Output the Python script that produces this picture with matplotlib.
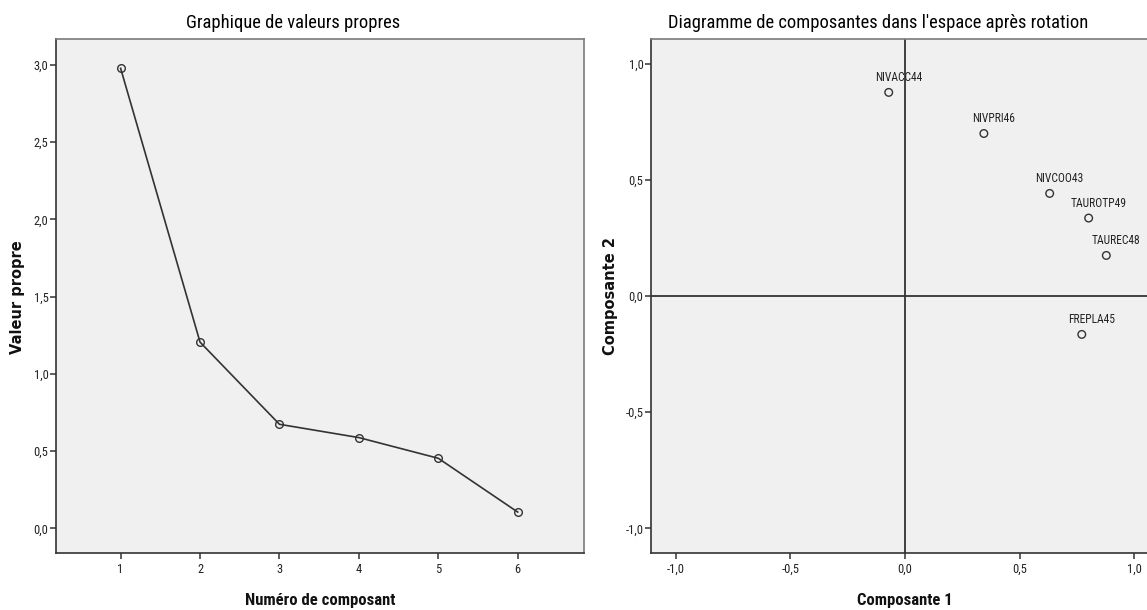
import matplotlib

matplotlib.use("Agg")
import matplotlib.pyplot as plt
from matplotlib import font_manager
from matplotlib.ticker import FuncFormatter

# Scree plot data
components = [1, 2, 3, 4, 5, 6]
eigenvalues = [2.977, 1.205, 0.673, 0.587, 0.453, 0.105]

# Rotated component loadings
variables = ["NIVACC44", "NIVPRI46", "NIVCOO43", "TAUROTP49", "TAUREC48", "FREPLA45"]
comp1 = [-0.071, 0.344, 0.631, 0.801, 0.878, 0.771]
comp2 = [0.877, 0.700, 0.442, 0.336, 0.175, -0.165]

scree_yticks = [0.0, 0.5, 1.0, 1.5, 2.0, 2.5, 3.0]
load_ticks = [-1.0, -0.5, 0.0, 0.5, 1.0]

BG = "#f0f0f0"
INK = "#333333"
W, H = 1147, 610


def _pick_narrow():
    # SPSS uses Arial Narrow; take a condensed face if one is installed,
    # otherwise shrink regular Liberation Sans to keep the text widths.
    for fam in ("Liberation Sans Narrow", "Arial Narrow", "Roboto Condensed",
                "Open Sans Condensed", "Noto Sans Condensed"):
        try:
            font_manager.findfont(font_manager.FontProperties(family=fam),
                                  fallback_to_default=False)
            return [fam, "DejaVu Sans"], 1.0
        except ValueError:
            continue
    return ["Liberation Sans", "DejaVu Sans"], 0.83


NARROW, SQUEEZE = _pick_narrow()
WIDE_BOLD = ["DejaVu Sans"]


def comma(v, _pos=None):
    return f"{v:.1f}".replace(".", ",")


def style_axes(ax):
    ax.set_facecolor(BG)
    for side in ("left", "bottom"):
        ax.spines[side].set_color(INK)
        ax.spines[side].set_linewidth(1.2)
    for side in ("top", "right"):
        ax.spines[side].set_color("#7a7a7a")
        ax.spines[side].set_linewidth(1.2)
    ax.tick_params(direction="out", length=4, width=1.1, color=INK,
                   labelsize=9 * SQUEEZE, labelcolor="#222222")
    ax.tick_params(axis="y", pad=1)
    ax.tick_params(axis="x", pad=3)
    for lab in ax.get_xticklabels() + ax.get_yticklabels():
        lab.set_family(NARROW)


fig = plt.figure(figsize=(W / 100, H / 100), dpi=100)

# ---- left: scree plot ----
ax1 = fig.add_axes([55.5 / W, 1 - 553 / H, (584 - 55.5) / W, (553 - 38.5) / H])
ax1.plot(components, eigenvalues, color=INK, lw=1.2, marker="o", ms=5.5,
         mfc="none", mec=INK, mew=1.0)
ax1.set_xlim(0.18, 6.835)
ax1.set_ylim(-0.16, 3.17)
ax1.set_xticks(components)
ax1.set_yticks(scree_yticks)
ax1.yaxis.set_major_formatter(FuncFormatter(comma))
style_axes(ax1)

# ---- right: rotated component plot ----
ax2 = fig.add_axes([650.5 / W, 1 - 553 / H, 509 / W, (553 - 38.5) / H])
ax2.axhline(0, color=INK, lw=1.3, zorder=1)
ax2.axvline(0, color=INK, lw=1.3, zorder=1)
ax2.scatter(comp1, comp2, s=30, facecolors="none", edgecolors=INK,
            linewidths=1.0, zorder=3)
for name, x, y in zip(variables, comp1, comp2):
    ax2.annotate(name, (x, y), xytext=(7, 10.5), textcoords="offset points",
                 ha="center", va="center", fontsize=8.3 * SQUEEZE, family=NARROW,
                 color="#222222")
ax2.set_xlim(-1.11, 1.11)
ax2.set_ylim(-1.106, 1.109)
ax2.set_xticks(load_ticks)
ax2.set_yticks(load_ticks)
ax2.xaxis.set_major_formatter(FuncFormatter(comma))
ax2.yaxis.set_major_formatter(FuncFormatter(comma))
style_axes(ax2)

# ---- titles and axis labels ----
fig.text(293 / W, 1 - 23 / H, "Graphique de valeurs propres",
         ha="center", va="center", fontsize=13.3 * SQUEEZE, family=NARROW,
         color="#000000")
fig.text(878 / W, 1 - 23 / H, "Diagramme de composantes dans l'espace après rotation",
         ha="center", va="center", fontsize=13.3 * SQUEEZE, family=NARROW,
         color="#000000")

fig.text(320 / W, 1 - 601 / H, "Numéro de composant", ha="center", va="center",
         fontsize=12 * SQUEEZE, family=NARROW, weight="bold", color="#111111")
fig.text(905 / W, 1 - 601 / H, "Composante 1", ha="center", va="center",
         fontsize=12 * SQUEEZE, family=NARROW, weight="bold", color="#111111")

fig.text(18 / W, 1 - 297 / H, "Valeur propre", ha="center", va="center",
         rotation=90, fontsize=10.5, family=WIDE_BOLD, weight="bold",
         color="#111111")
fig.text(611 / W, 1 - 296 / H, "Composante 2", ha="center", va="center",
         rotation=90, fontsize=10.5, family=WIDE_BOLD, weight="bold",
         color="#111111")

fig.savefig("out.png", dpi=100, facecolor="white")
